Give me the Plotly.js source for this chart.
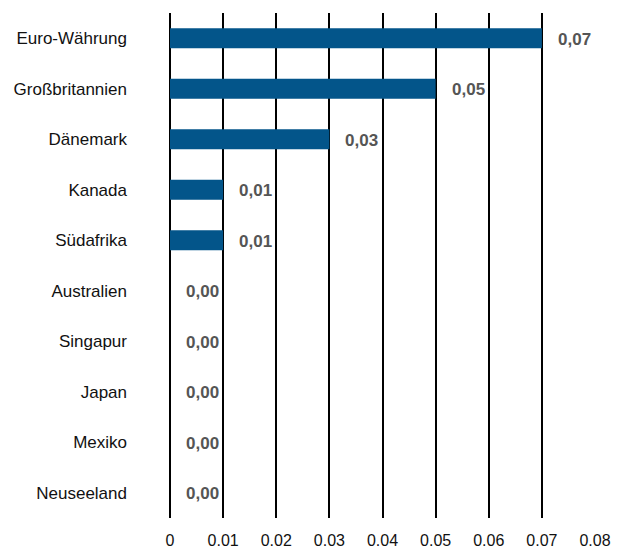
<!DOCTYPE html>
<html><head><meta charset="utf-8">
<script src="https://cdn.plot.ly/plotly-3.0.1.min.js"></script>
<style>body{margin:0}#c{width:628px;height:555px}</style>
</head><body><div id="c"></div>
<script>
const categories = ["Euro-Währung","Großbritannien","Dänemark","Kanada","Südafrika","Australien","Singapur","Japan","Mexiko","Neuseeland"];
const values = [0.07,0.05,0.03,0.01,0.01,0.00,0.00,0.00,0.00,0.00];
const xTicks = [0,0.01,0.02,0.03,0.04,0.05,0.06,0.07,0.08];
const xTickLabels = ["0","0.01","0.02","0.03","0.04","0.05","0.06","0.07","0.08"];

const fmt = v => v.toFixed(2).replace('.', ',');
const annotations = categories.map((c,i)=>({
  x: values[i], y: c, xref:'x', yref:'y', text: '<b>'+fmt(values[i])+'</b>',
  showarrow:false, xanchor:'left', yanchor:'middle', xshift:14, yshift:-1,
  font:{family:'Liberation Sans, Arial, sans-serif', size:17, color:'#555555'}
}));

Plotly.newPlot('c', [{
  type:'bar', orientation:'h', x: values, y: categories,
  marker:{color:'#03558a'}, width:0.4, hoverinfo:'none'
}], {
  width:628, height:555,
  margin:{l:170, r:33, t:13, b:37},
  paper_bgcolor:'#fff', plot_bgcolor:'#fff',
  showlegend:false,
  font:{family:'Liberation Sans, Arial, sans-serif', size:17, color:'#111'},
  xaxis:{range:[0,0.08], tickvals:xTicks, ticktext:xTickLabels, showgrid:true,
    gridcolor:'#000', gridwidth:2, zeroline:true, zerolinecolor:'#000', zerolinewidth:2,
    showline:false, ticks:'', ticklabelstandoff:11, tickfont:{size:16}, fixedrange:true},
  yaxis:{categoryorder:'array', categoryarray:categories, autorange:'reversed',
    showgrid:false, zeroline:false, showline:false, ticks:'', ticklabelstandoff:42, fixedrange:true},
  annotations: annotations
}, {displayModeBar:false, staticPlot:true});
</script></body></html>
